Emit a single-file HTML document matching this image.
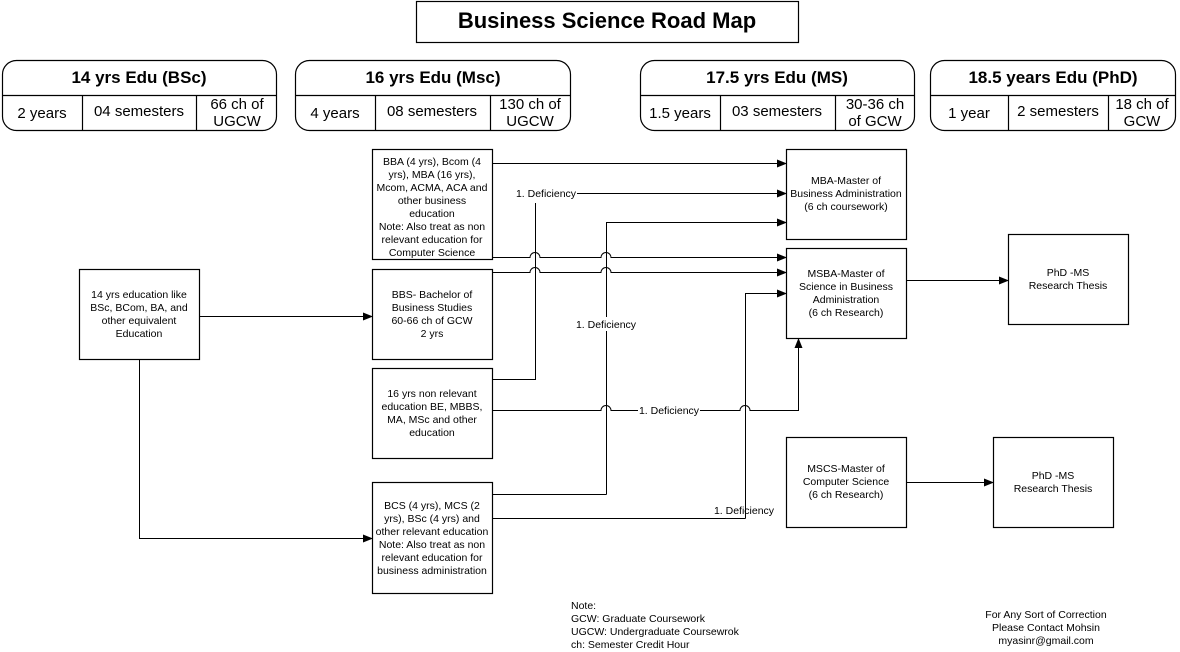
<!DOCTYPE html>
<html><head><meta charset="utf-8"><style>
body{margin:0;background:#fff}
svg{display:block}
text{font-family:"Liberation Sans",Arial,sans-serif;fill:#000}
.s{font-size:10.5px}
.h{font-size:17px;font-weight:bold}
.c{font-size:15px}
</style></head><body>
<svg width="1180" height="652" viewBox="0 0 1180 652" xmlns="http://www.w3.org/2000/svg">
<defs><marker id="a" markerWidth="10" markerHeight="8" refX="9" refY="4" orient="auto" markerUnits="userSpaceOnUse"><path d="M0,0 L10,4 L0,8 z" fill="#000"/></marker></defs>
<g fill="none" stroke="#000" stroke-width="1.2">
<rect x="416.5" y="1.5" width="382" height="41"/>
<rect x="2.5" y="60.5" width="274" height="70" rx="14"/><line x1="2" y1="95.5" x2="277" y2="95.5"/><line x1="82.5" y1="95" x2="82.5" y2="131"/><line x1="196.5" y1="95" x2="196.5" y2="131"/>
<rect x="295.5" y="60.5" width="275" height="70" rx="14"/><line x1="295" y1="95.5" x2="571" y2="95.5"/><line x1="375.5" y1="95" x2="375.5" y2="131"/><line x1="490.5" y1="95" x2="490.5" y2="131"/>
<rect x="640.5" y="60.5" width="274" height="70" rx="14"/><line x1="640" y1="95.5" x2="915" y2="95.5"/><line x1="720.5" y1="95" x2="720.5" y2="131"/><line x1="835.5" y1="95" x2="835.5" y2="131"/>
<rect x="930.5" y="60.5" width="245" height="70" rx="14"/><line x1="930" y1="95.5" x2="1176" y2="95.5"/><line x1="1008.5" y1="95" x2="1008.5" y2="131"/><line x1="1108.5" y1="95" x2="1108.5" y2="131"/>
<rect x="372.5" y="149.5" width="120" height="110"/>
<rect x="372.5" y="269.5" width="120" height="90"/>
<rect x="372.5" y="368.5" width="120" height="90"/>
<rect x="372.5" y="482.5" width="120" height="111"/>
<rect x="79.5" y="269.5" width="120" height="90"/>
<rect x="786.5" y="149.5" width="120" height="90"/>
<rect x="786.5" y="248.5" width="120" height="90"/>
<rect x="1008.5" y="234.5" width="120" height="90"/>
<rect x="786.5" y="437.5" width="120" height="90"/>
<rect x="993.5" y="437.5" width="120" height="90"/>
</g>
<g fill="none" stroke="#000" stroke-width="1" marker-end="url(#a)">
<path d="M492 163.5H786"/>
<path d="M577 193.5H786"/>
<path d="M606.5 494.5V222.5H786"/>
<path d="M492 257.5H530a5 5 0 0 1 10 0H601a5 5 0 0 1 10 0H786"/>
<path d="M492 272.5H530a5 5 0 0 1 10 0H601a5 5 0 0 1 10 0H786"/>
<path d="M745.5 518.5V293.5H786"/>
<path d="M492 410.5H601a5 5 0 0 1 10 0H638M700 410.5H740a5 5 0 0 1 10 0H798.5V339"/>
<path d="M199 316.5H372"/>
<path d="M139.5 359V538.5H372"/>
<path d="M907 280.5H1008"/>
<path d="M906 482.5H993"/>
</g>
<g fill="none" stroke="#000" stroke-width="1">
<path d="M535.5 203V379.5H492"/>
<path d="M492 494.5H606.5"/>
<path d="M492 518.5H745.5"/>
</g>
<rect x="577" y="317" width="60" height="14" fill="#fff"/>
<text x="607" y="28" text-anchor="middle" style="font-size:22px;font-weight:bold">Business Science Road Map</text>
<g class="h" text-anchor="middle">
<text x="139" y="83">14 yrs Edu (BSc)</text>
<text x="433" y="83">16 yrs Edu (Msc)</text>
<text x="777" y="83">17.5 yrs Edu (MS)</text>
<text x="1053" y="83">18.5 years Edu (PhD)</text>
</g>
<g class="c" text-anchor="middle">
<text x="42" y="118">2 years</text><text x="139" y="116">04 semesters</text><text x="237" y="109">66 ch of</text><text x="237" y="126">UGCW</text>
<text x="335" y="118">4 years</text><text x="432" y="116">08 semesters</text><text x="530" y="109">130 ch of</text><text x="530" y="126">UGCW</text>
<text x="680" y="118">1.5 years</text><text x="777" y="116">03 semesters</text><text x="875" y="109">30-36 ch</text><text x="875" y="126">of GCW</text>
<text x="969" y="118">1 year</text><text x="1058" y="116">2 semesters</text><text x="1142" y="109">18 ch of</text><text x="1142" y="126">GCW</text>
</g>
<g class="s" text-anchor="middle">
<text x="432" y="165">BBA (4 yrs), Bcom (4</text><text x="432" y="178">yrs), MBA (16 yrs),</text><text x="432" y="191">Mcom, ACMA, ACA and</text><text x="432" y="204">other business</text><text x="432" y="217">education</text><text x="432" y="230">Note: Also treat as non</text><text x="432" y="243">relevant education for</text><text x="432" y="256">Computer Science</text>
<text x="432" y="298">BBS- Bachelor of</text><text x="432" y="311">Business Studies</text><text x="432" y="324">60-66 ch of GCW</text><text x="432" y="337">2 yrs</text>
<text x="432" y="397">16 yrs non relevant</text><text x="432" y="410">education BE, MBBS,</text><text x="432" y="423">MA, MSc and other</text><text x="432" y="436">education</text>
<text x="432" y="509">BCS (4 yrs), MCS (2</text><text x="432" y="522">yrs), BSc (4 yrs) and</text><text x="432" y="535">other relevant education</text><text x="432" y="548">Note: Also treat as non</text><text x="432" y="561">relevant education for</text><text x="432" y="574">business administration</text>
<text x="139" y="298">14 yrs education like</text><text x="139" y="311">BSc, BCom, BA, and</text><text x="139" y="324">other equivalent</text><text x="139" y="337">Education</text>
<text x="846" y="184">MBA-Master of</text><text x="846" y="197">Business Administration</text><text x="846" y="210">(6 ch coursework)</text>
<text x="846" y="277">MSBA-Master of</text><text x="846" y="290">Science in Business</text><text x="846" y="303">Administration</text><text x="846" y="316">(6 ch Research)</text>
<text x="1068" y="276">PhD -MS</text><text x="1068" y="289">Research Thesis</text>
<text x="846" y="472">MSCS-Master of</text><text x="846" y="485">Computer Science</text><text x="846" y="498">(6 ch Research)</text>
<text x="1053" y="479">PhD -MS</text><text x="1053" y="492">Research Thesis</text>
<text x="546" y="197">1. Deficiency</text>
<text x="606" y="328">1. Deficiency</text>
<text x="669" y="414">1. Deficiency</text>
<text x="744" y="514">1. Deficiency</text>
<text x="1046" y="618">For Any Sort of Correction</text><text x="1046" y="631">Please Contact Mohsin</text><text x="1046" y="644">myasinr@gmail.com</text>
</g>
<g class="s">
<text x="571" y="609">Note:</text><text x="571" y="622">GCW: Graduate Coursework</text><text x="571" y="635">UGCW: Undergraduate Coursewrok</text><text x="571" y="648">ch: Semester Credit Hour</text>
</g>
</svg>
</body></html>
